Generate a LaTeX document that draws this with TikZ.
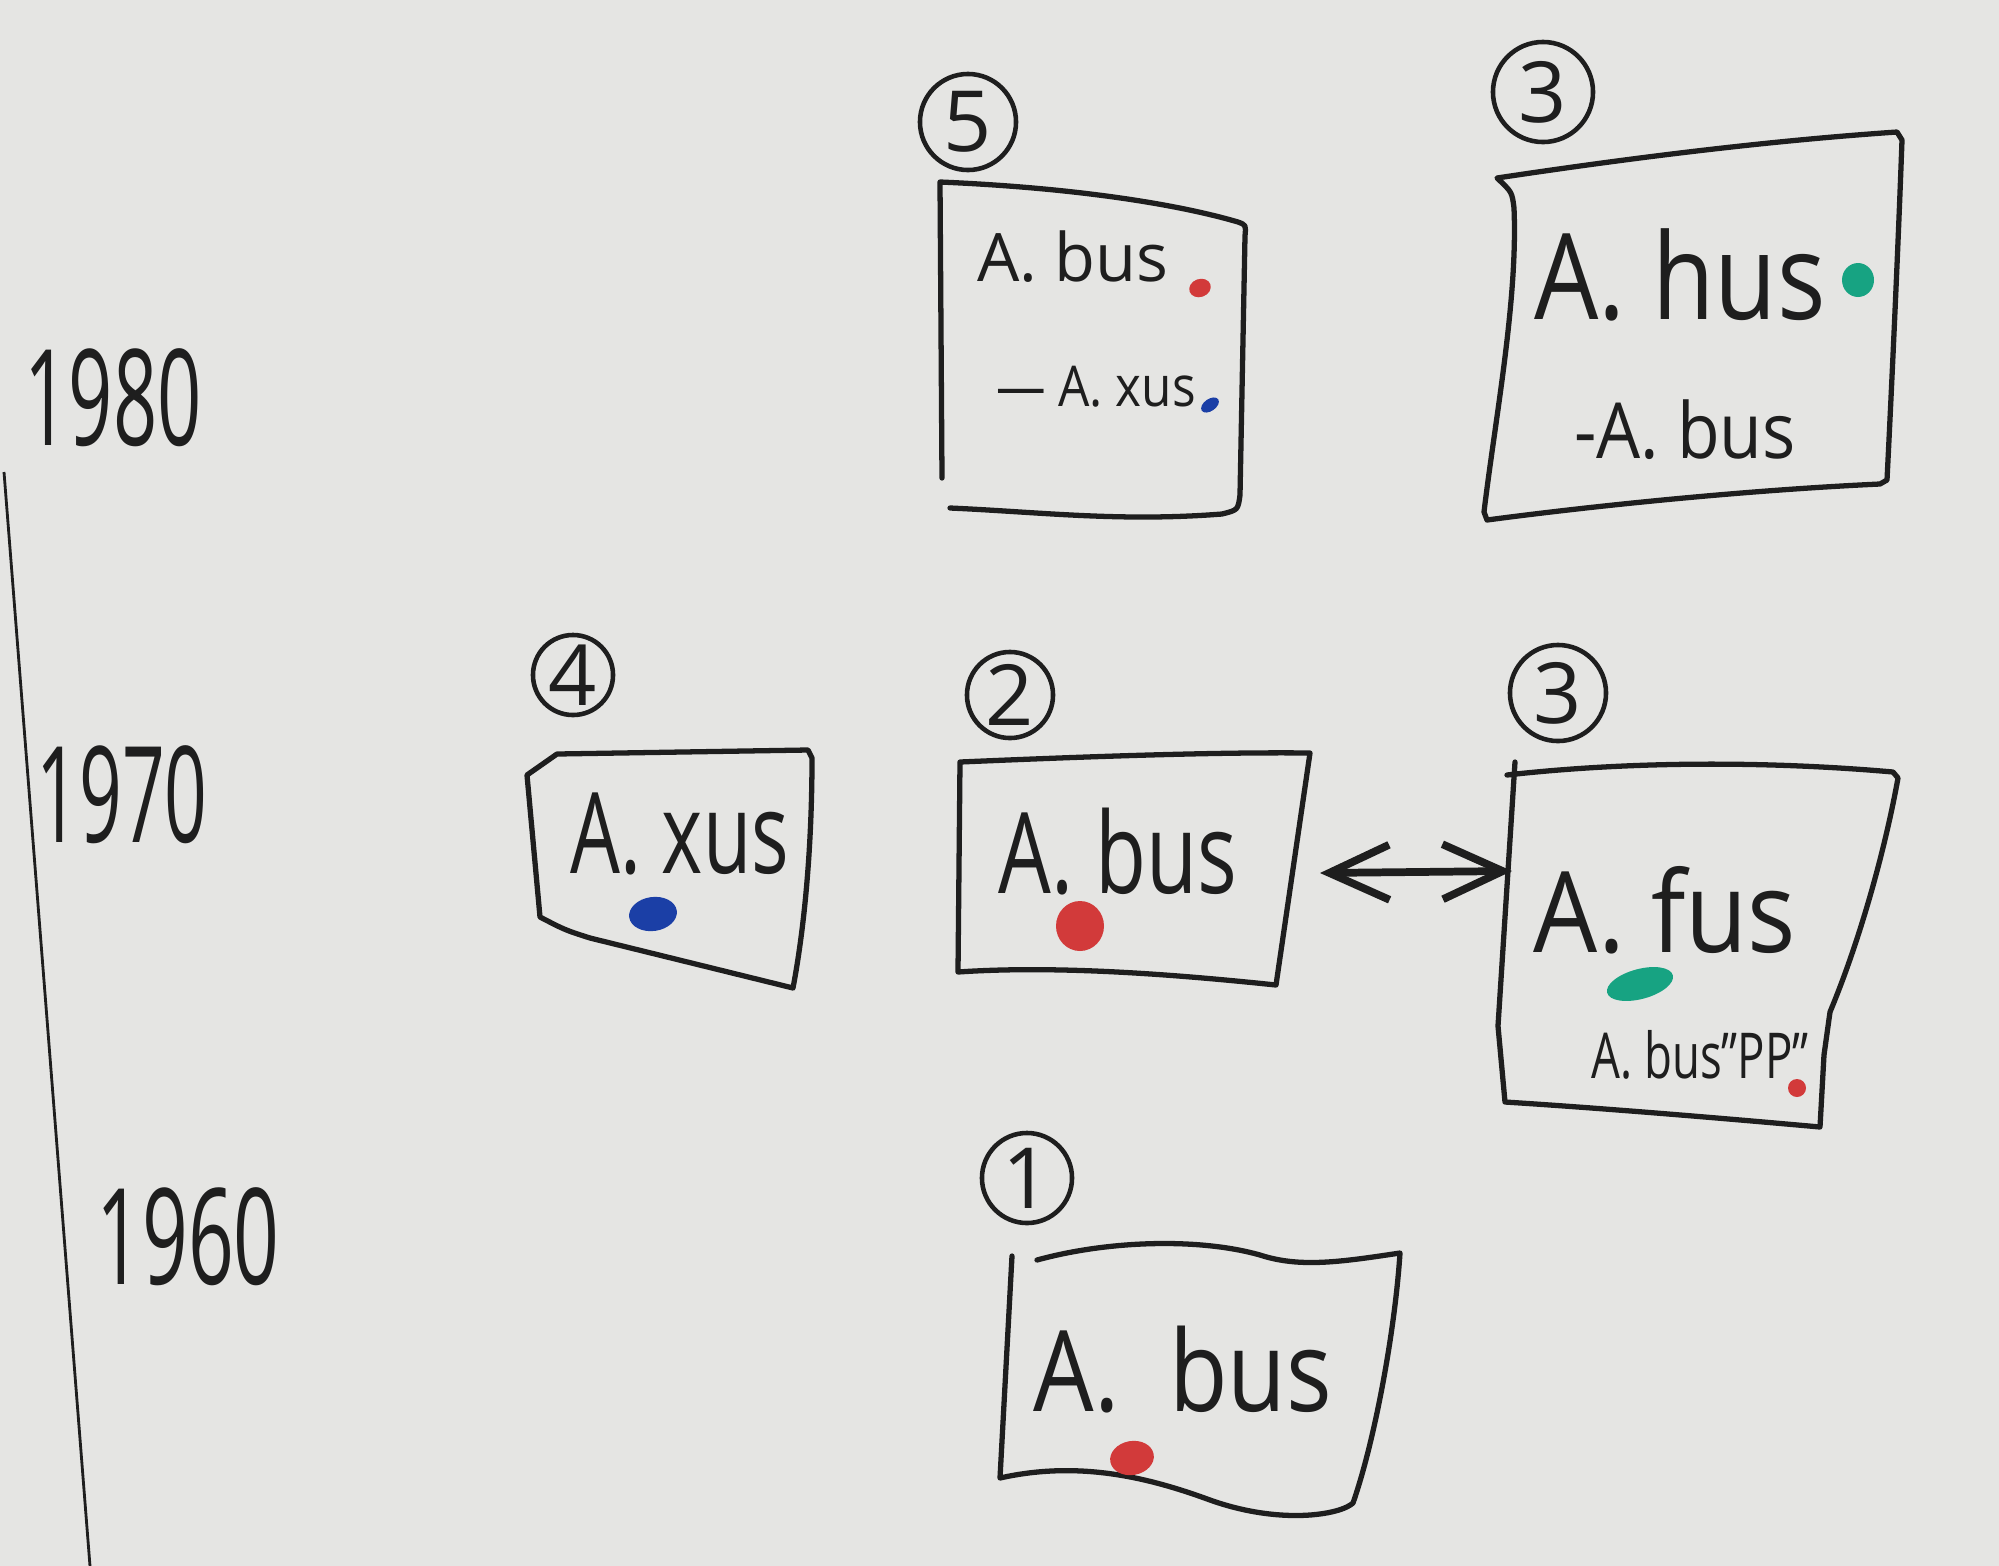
\documentclass[tikz,border=0pt]{standalone}
\usepackage{graphicx}
\usepackage{fontspec}
\setmainfont{Open Sans}
\usetikzlibrary{arrows.meta}
\definecolor{ink}{HTML}{1E1E1E}
\definecolor{board}{HTML}{E5E5E3}
\definecolor{dotRed}{HTML}{D23A3A}
\definecolor{dotBlue}{HTML}{1B3FA6}
\definecolor{dotGreen}{HTML}{17A382}
\newcommand\nar[2][.75]{\scalebox{#1}[1]{#2}}
\tikzset{
  mk/.style={draw=ink,line width=1.5pt,line cap=round,line join=round},
  axis/.style={draw=ink,line width=.8pt},
  num/.style={circle,draw=ink,line width=1.3pt,minimum size=9.2mm,inner sep=0pt,text=ink,font=\fontsize{24}{24}\selectfont},
  yr/.style={text=ink,inner sep=0pt,font=\fontsize{38}{38}\selectfont},
  big/.style={text=ink,inner sep=0pt,font=\fontsize{32}{32}\selectfont},
  mid/.style={text=ink,inner sep=0pt,font=\fontsize{22}{22}\selectfont},
  small/.style={text=ink,inner sep=0pt,font=\fontsize{18}{18}\selectfont},
  dbl/.style={{Straight Barb[length=6mm,width=5.5mm]}-{Straight Barb[length=6mm,width=5.5mm]},draw=ink,line width=2.2pt},
}
\begin{document}
\begin{tikzpicture}[x=0.01cm,y=-0.01cm]
  \fill[board] (0,0) rectangle (1999,1566);
  \useasboundingbox (0,0) rectangle (1999,1566);
  % time axis and years
  \draw[axis] (4,472) -- (90,1566);
  \node[yr] (y80) at (113,398) {\nar[.58]{1980}};
  \node[yr] (y70) at (122,795) {\nar[.56]{1970}};
  \node[yr] (y60) at (188,1237) {\nar[.6]{1960}};
  % 1980, box 5
  \node[num,minimum size=9.6mm] (n5) at (968,122) {5};
  \draw[mk] (942,478) -- (940,182) .. controls (1080,188) and (1180,205) .. (1238,222)
    .. controls (1246,225) .. (1245,236) -- (1240,495) .. controls (1238,510) .. (1222,514)
    .. controls (1120,522) and (1040,512) .. (950,508);
  \node[small,font=\fontsize{19}{19}\selectfont] (t5a) at (1073,257) {A. bus};
  \node[small,font=\fontsize{16}{16}\selectfont] (t5b) at (1096,387) {\nar[.88]{— A. xus}};
  \fill[dotRed,rotate around={20:(1200,288)}] (1200,288) ellipse (11 and 9);
  \fill[dotBlue,rotate around={35:(1210,405)}] (1210,405) ellipse (10 and 6);
  % 1980, box 3
  \node[num,minimum size=10mm] (n3a) at (1543,92) {3};
  \draw[mk] (1497,178) .. controls (1650,155) and (1780,140) .. (1897,132) -- (1902,140)
    .. controls (1898,250) and (1892,380) .. (1887,480) -- (1880,484)
    .. controls (1750,490) and (1600,505) .. (1487,520) -- (1484,512)
    .. controls (1495,420) and (1518,300) .. (1514,208) .. controls (1512,192) .. (1497,178) -- cycle;
  \node[big,font=\fontsize{34}{34}\selectfont] (t3a) at (1680,275) {\nar[.85]{A. hus}};
  \node[mid] (t3b) at (1685,430) {\nar[.9]{-A. bus}};
  \fill[dotGreen] (1858,280) ellipse (16 and 17);
  % 1970, box 4
  \node[num,minimum size=8mm] (n4) at (573,675) {4};
  \draw[mk] (540,917) -- (527,775) -- (557,754) -- (808,750) -- (812,758)
    .. controls (812,850) and (804,930) .. (793,988) -- (590,938) .. controls (565,930) .. (540,917) -- cycle;
  \node[big] (t4) at (680,834) {\nar[.7]{A. xus}};
  \fill[dotBlue,rotate around={8:(653,914)}] (653,914) ellipse (24 and 17);
  % 1970, box 2
  \node[num,minimum size=8.6mm] (n2) at (1010,695) {2};
  \draw[mk] (960,762) .. controls (1100,756) and (1220,752) .. (1310,753) -- (1276,985)
    .. controls (1180,975) and (1060,965) .. (958,972) -- cycle;
  \node[big] (t2) at (1118,852) {\nar[.74]{A. bus}};
  \fill[dotRed] (1080,926) ellipse (24 and 25);
  % 1970, box 3
  \node[num,minimum size=9.6mm] (n3b) at (1558,693) {3};
  \draw[mk] (1515,762) -- (1498,1026) -- (1505,1102) .. controls (1600,1108) and (1720,1118) .. (1820,1127)
    -- (1824,1055) -- (1830,1012) .. controls (1860,940) and (1885,850) .. (1898,778)
    -- (1893,772) .. controls (1780,762) and (1640,760) .. (1507,775);
  \node[big] (t3m) at (1665,910) {\nar[.9]{A. fus}};
  \node[small] (t3p) at (1700,1055) {\nar[.72]{A. bus"PP"}};
  \fill[dotGreen,rotate around={15:(1640,984)}] (1640,984) ellipse (34 and 15);
  \fill[dotRed] (1797,1088) circle (9);
  % link between box 2 and box 3
  \coordinate (b2e) at (1320,873);
  \coordinate (b3w) at (1512,871);
  \draw[dbl] (b2e) -- (b3w);
  % 1960, box 1
  \node[num,minimum size=9mm] (n1) at (1027,1178) {1};
  \draw[mk] (1012,1256) -- (1000,1478) .. controls (1080,1460) and (1150,1478) .. (1210,1500)
    .. controls (1280,1525) and (1340,1515) .. (1353,1503) .. controls (1375,1440) and (1395,1330) .. (1400,1253)
    .. controls (1340,1262) and (1300,1268) .. (1260,1255) .. controls (1200,1238) and (1110,1240) .. (1037,1260);
  \node[big] (t1) at (1183,1370) {\nar[.85]{A.\ \ bus}};
  \fill[dotRed,rotate around={10:(1132,1458)}] (1132,1458) ellipse (22 and 17);
\end{tikzpicture}
\end{document}
